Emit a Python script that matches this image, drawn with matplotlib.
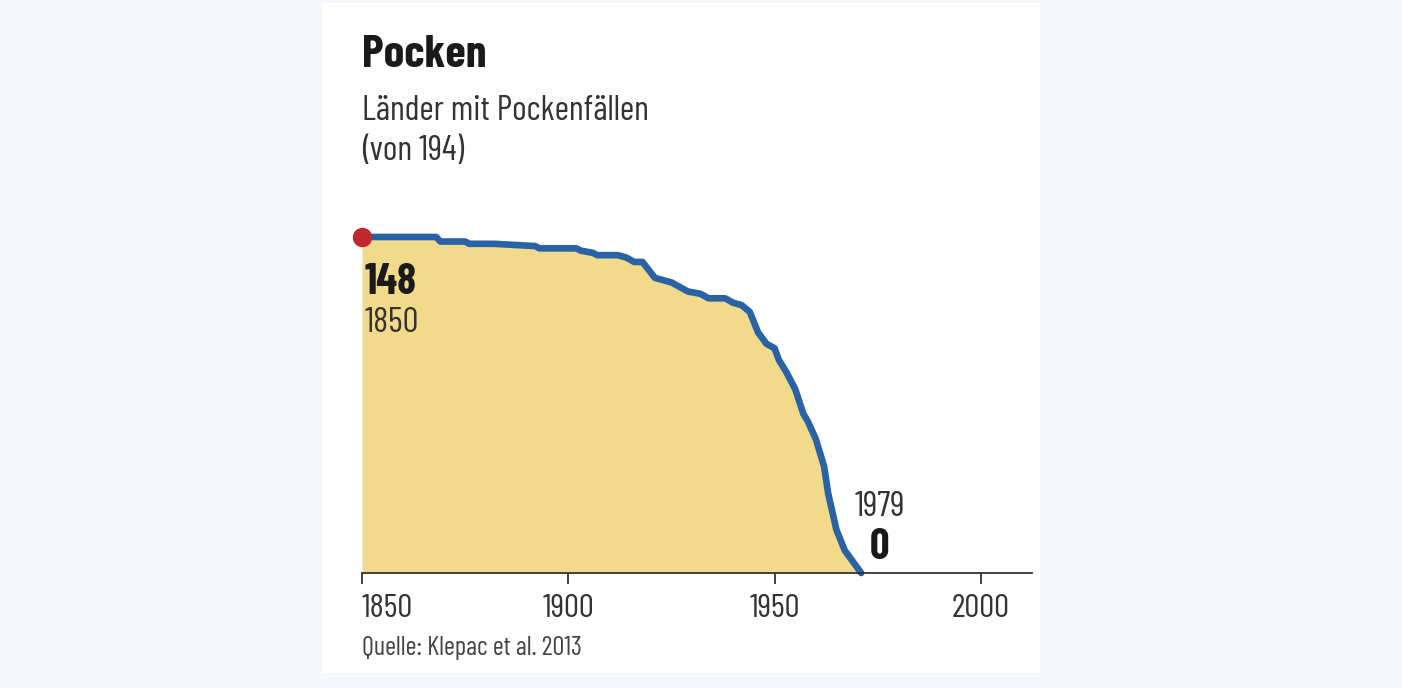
import matplotlib
matplotlib.use("Agg")
import matplotlib.pyplot as plt
from matplotlib.patches import Rectangle

# Countries with smallpox cases (Klepac et al. 2013)
years = [1850, 1868, 1869, 1875, 1876, 1882, 1892, 1893, 1902, 1903, 1906, 1907,
         1912, 1914, 1916, 1918, 1921, 1925, 1927, 1929, 1932, 1934, 1938, 1940,
         1942, 1944, 1946, 1948, 1950, 1951, 1953, 1955, 1957, 1958, 1960, 1962,
         1963, 1965, 1967, 1969, 1971]
countries = [148, 148, 146, 146, 145, 145, 144, 143, 143, 142, 141, 140,
             140, 139, 137, 137, 130, 128, 126, 124, 123, 121, 121, 119,
             118, 115, 106, 101, 99, 94, 88, 81, 70, 67, 59, 47,
             35, 19, 10, 5, 0]
tick_years = [1850, 1900, 1950, 2000]

plt.rcParams['font.family'] = ['Barlow Condensed', 'DejaVu Sans']

fig = plt.figure(figsize=(14.02, 6.88), dpi=100)
fig.patch.set_facecolor("#f4f8fc")
# white card behind the chart
fig.patches.append(Rectangle((322 / 1402, 15 / 688), 718 / 1402, 670 / 688,
                             transform=fig.transFigure, facecolor="white",
                             edgecolor="none", zorder=-1))

ax = fig.add_axes([362 / 1402, 115 / 688, 670 / 1402, 336 / 688])
ax.set_facecolor("none")
ax.fill_between(years, countries, 0, color="#f2da8b", linewidth=0, zorder=1)
ax.plot(years, countries, color="#2a62a6", linewidth=4.8, solid_joinstyle="round",
        solid_capstyle="round", clip_on=False, zorder=2)
ax.plot(years[0], countries[0], "o", color="#c1272d", markersize=13, clip_on=False, zorder=3)

ax.set_xlim(1850, 2012.4)
ax.set_ylim(0, 148)
for s in ["top", "right", "left"]:
    ax.spines[s].set_visible(False)
ax.spines["bottom"].set_color("#333333")
ax.spines["bottom"].set_linewidth(1.3)
ax.set_yticks([])
ax.set_xticks(tick_years)
ax.set_xticklabels([str(y) for y in tick_years], fontsize=24, color="#333333")
ax.tick_params(axis="x", direction="out", length=8, width=1.3, color="#333333", pad=7)
ax.get_xticklabels()[0].set_horizontalalignment("left")

# start / end annotations
ax.text(1850.7, 136.5, "148", fontsize=31, fontweight="bold", color="#1a1a1a",
        va="top", ha="left")
ax.text(1850.7, 117, "1850", fontsize=25.5, color="#333333",
        va="top", ha="left")
ax.text(1975.5, 22, "1979", fontsize=25.5, color="#333333",
        va="bottom", ha="center")
ax.text(1975.5, 2.5, "0", fontsize=31, fontweight="bold", color="#1a1a1a",
        va="bottom", ha="center")

fig.text(362 / 1402, 1 - 67 / 688, "Pocken", fontsize=33.5, fontweight="bold",
         color="#1a1a1a", va="baseline", ha="left")
fig.text(362 / 1402, 1 - 120 / 688, "Länder mit Pockenfällen", fontsize=25,
         color="#333333", va="baseline", ha="left")
fig.text(362 / 1402, 1 - 160 / 688, "(von 194)", fontsize=25,
         color="#333333", va="baseline", ha="left")
fig.text(362 / 1402, 1 - 655 / 688, "Quelle: Klepac et al. 2013", fontsize=19,
         color="#444444", va="baseline", ha="left")

fig.savefig("out.png", dpi=100, facecolor=fig.get_facecolor())
